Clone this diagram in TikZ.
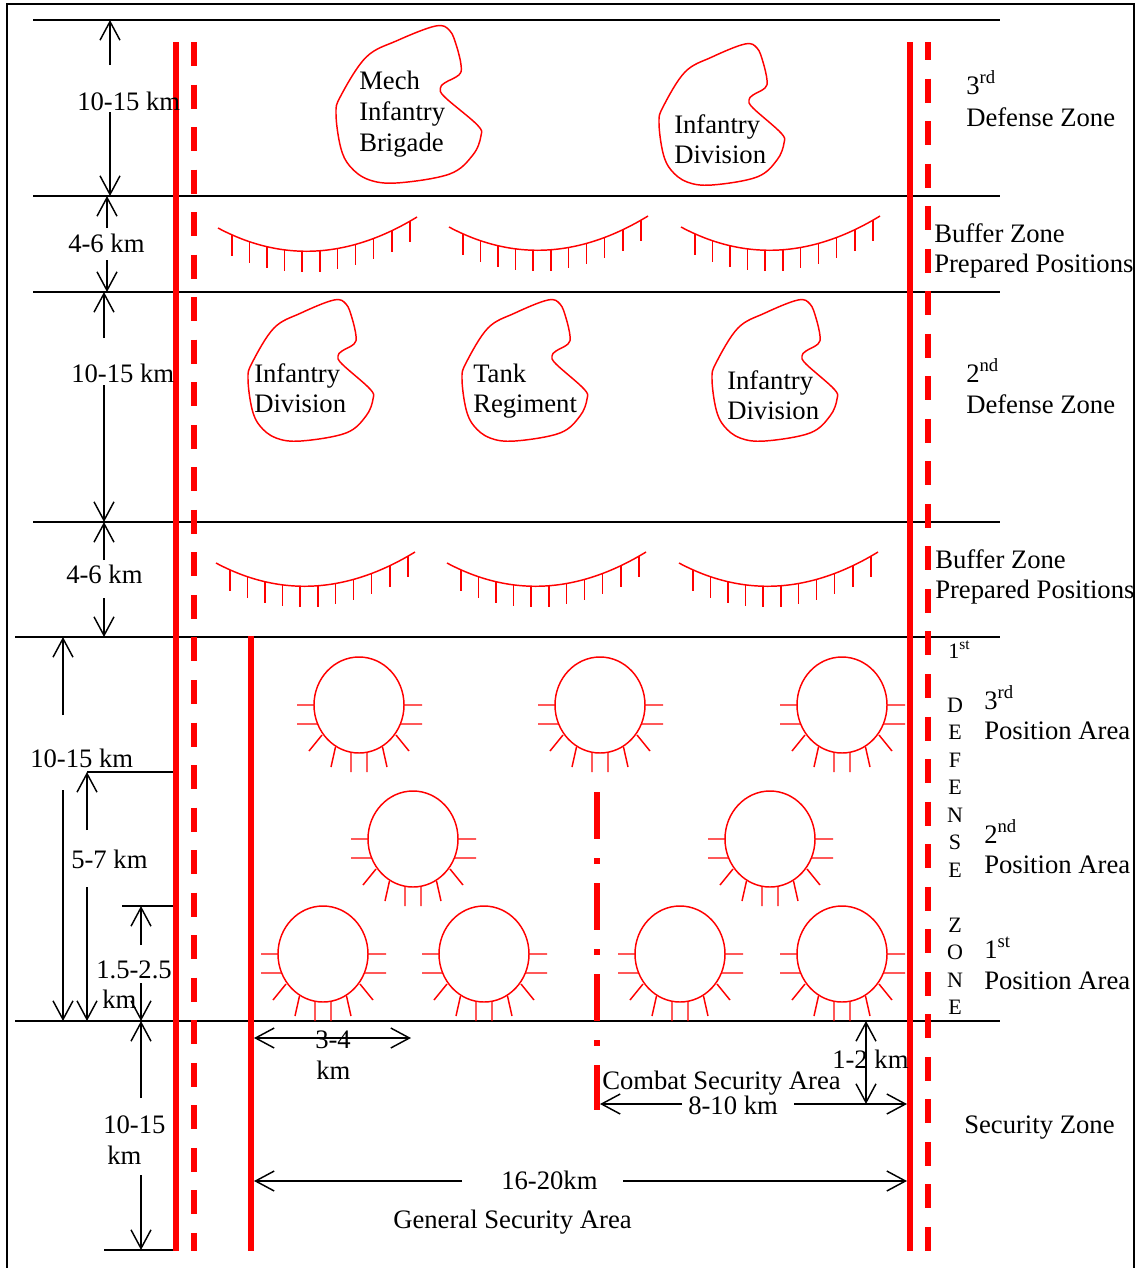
\documentclass[tikz,border=0pt]{standalone}
\usepackage{fontspec}
\setmainfont{Liberation Serif}
\usetikzlibrary{arrows.meta}
\begin{document}
\begin{tikzpicture}[x=0.75pt,y=-0.75pt,
  lbl/.style={anchor=base west, inner sep=0pt, font=\fontsize{20}{23}\selectfont},
  vlet/.style={anchor=base, inner sep=0pt, font=\fontsize{16.5}{20}\selectfont},
  vlw/.style={anchor=base west, inner sep=0pt, font=\fontsize{16.5}{20}\selectfont},
  framel/.style={line width=1.5pt},
  hline/.style={line width=1.1pt},
  dim/.style={line width=1.1pt, -{Straight Barb[length=14pt,width=15pt]}},
  dimboth/.style={line width=1.1pt, {Straight Barb[length=14pt,width=15pt]}-{Straight Barb[length=14pt,width=15pt]}},
  redthick/.style={red, line width=4.5pt},
  reddash/.style={red, line width=4.5pt, dash pattern=on 18pt off 13.9pt},
  redthin/.style={red, line width=1.1pt},
  unitblob/.pic={\draw[redthin] plot[smooth cycle, tension=0.6] coordinates {(86,0) (98,4) (104,18) (108,36) (106,44) (94,51) (90,56) (94,64) (122,89) (125,99) (118,116) (98,133) (53,141) (28,138) (12,126) (4,109) (0,79) (4,63) (26,28) (53,13)};},
  posarea/.pic={
    \draw[redthin] (0,0) ellipse [x radius=33.75pt, y radius=36pt];
    \draw[redthin] (-62,0) -- (-45,0) (-62,19) -- (-41,19) (45,0) -- (63,0) (41,19) -- (63,19)
      (-37,30) -- (-50,46) (37,30) -- (50,46) (-23.5,42) -- (-28,62) (23.5,42) -- (28,62)
      (-8,48) -- (-8,67) (8,48) -- (8,67);
  },
  fortarc/.pic={
    \draw[redthin] (0,0) .. controls (64.3,34.3) and (130.7,30.7) .. (199,-11);
    \foreach \i in {0,...,10}{
      \pgfmathsetmacro\tp{0.0725+0.0894*\i}
      \pgfmathsetmacro\xx{3*(1-\tp)^2*\tp*64.3+3*(1-\tp)*\tp^2*130.7+\tp^3*199}
      \pgfmathsetmacro\yy{3*(1-\tp)^2*\tp*34.3+3*(1-\tp)*\tp^2*30.7-\tp^3*11}
      \draw[redthin] (\xx,\yy) -- ++(0,21);
    }
  }
]
\useasboundingbox (0,0) rectangle (1137,1268);

% frame
\draw[framel] (7,1268) -- (7,4) -- (1134,4) -- (1134,1268);

% zone lines
\foreach \y in {20,196,292,522} \draw[hline] (33,\y) -- (1000,\y);
\foreach \y in {637,1021} \draw[hline] (15,\y) -- (1000,\y);

% left dimension arrows
\draw[dim] (110,65) -- (110,20);
\draw[dim] (110,112) -- (110,196);
\draw[dim] (107,228) -- (107,196);
\draw[dim] (107,260) -- (107,292);
\draw[dim] (104,338) -- (104,292);
\draw[dim] (104,385) -- (104,522);
\draw[dim] (104,560) -- (104,522);
\draw[dim] (104,598) -- (104,637);
\draw[dim] (63,715) -- (63,637);
\draw[dim] (63,790) -- (63,1021);
\draw[hline] (87,772) -- (176,772);
\draw[dim] (87,830) -- (87,772);
\draw[dim] (87,887) -- (87,1021);
\draw[hline] (122,906) -- (176,906);
\draw[dim] (141,945) -- (141,906);
\draw[dim] (141,983) -- (141,1021);
\draw[dim] (141,1098) -- (141,1021);
\draw[dim] (141,1175) -- (141,1250);
\draw[hline] (104,1250) -- (176,1250);

% bottom dimension arrows
\draw[dimboth] (254,1038) -- (411,1038);
\draw[dim] (462,1181) -- (254,1181);
\draw[dim] (623,1181) -- (907,1181);
\draw[dim] (682,1104) -- (600,1104);
\draw[dim] (794,1104) -- (907,1104);
\draw[dimboth] (866,1021) -- (866,1104);

% unit blobs
\pic (mib) [xscale=1.159,yscale=1.113] at (336,26) {unitblob};
\pic (id3) at (659,44) {unitblob};
\pic (id2a) at (248,300) {unitblob};
\pic (tr2) at (462,300) {unitblob};
\pic (id2b) at (712,300) {unitblob};

% prepared positions
\foreach \x/\y [count=\k] in {218/228,449/227,681/227,216/563,447/563,679/563}
  \pic (fa\k) at (\x,\y) {fortarc};

% position areas
\foreach \x/\y [count=\k] in {359/705,600/705,842/705,413/839,770/839,323/954,484/954,680/954,842/954}
  \pic (pa\k) at (\x,\y) {posarea};

% red boundary lines
\draw[redthick] (176,42) -- (176,1251);
\draw[reddash] (194,42) -- (194,1251);
\draw[redthick] (910,42) -- (910,1251);
\draw[reddash, dash phase=4.5pt] (928,42) -- (928,1251);
\draw[redthick] (251,636) -- (251,1251);
\draw[red, line width=4.5pt, dash pattern=on 35.25pt off 14.25pt on 4.5pt off 14.25pt] (597,792) -- (597,1110);

% blob texts
\node[lbl] (t1) at (359,89) {Mech};
\node[lbl] (t2) at (359,120) {Infantry};
\node[lbl] (t3) at (359,151) {Brigade};
\node[lbl] (t4) at (674,133) {Infantry};
\node[lbl] (t5) at (674,163) {Division};
\node[lbl] (t6) at (254,382) {Infantry};
\node[lbl] (t7) at (254,412) {Division};
\node[lbl] (t8) at (473,382) {Tank};
\node[lbl] (t9) at (473,412) {Regiment};
\node[lbl] (t10) at (727,389) {Infantry};
\node[lbl] (t11) at (727,419) {Division};

% dimension labels
\node[lbl] (d1) at (77,110) {10-15 km};
\node[lbl] (d2) at (68,252) {4-6 km};
\node[lbl] (d3) at (71,382) {10-15 km};
\node[lbl] (d4) at (66,583) {4-6 km};
\node[lbl] (d5) at (30,767) {10-15 km};
\node[lbl] (d6) at (71,868) {5-7 km};
\node[lbl] (d7a) at (96,978) {1.5-2.5};
\node[lbl] (d7b) at (102,1008) {km};
\node[lbl] (d8a) at (103,1133) {10-15};
\node[lbl] (d8b) at (107,1164) {km};
\node[lbl] (d9a) at (315,1048) {3-4};
\node[lbl] (d9b) at (316,1079) {km};
\node[lbl] (d10) at (501,1189) {16-20km};
\node[lbl] (d11) at (393,1228) {General Security Area};
\node[lbl] (d12) at (602,1089) {Combat Security Area};
\node[lbl] (d13) at (688,1114) {8-10 km};
\node[lbl] (d14) at (832,1068) {1-2 km};
\node[lbl] (d15) at (964,1133) {Security Zone};

% right labels
\node[lbl] (r1) at (966,94) {3\textsuperscript{rd}};
\node[lbl] (r2) at (966,126) {Defense Zone};
\node[lbl] (r3) at (934,242) {Buffer Zone};
\node[lbl] (r4) at (934,272) {Prepared Positions};
\node[lbl] (r5) at (966,382) {2\textsuperscript{nd}};
\node[lbl] (r6) at (966,413) {Defense Zone};
\node[lbl] (r7) at (935,568) {Buffer Zone};
\node[lbl] (r8) at (935,598) {Prepared Positions};
\node[vlw] (r9) at (948,658) {1\textsuperscript{st}};
\foreach \c/\y [count=\k] in {D/712,E/739.5,F/767,E/794.5,N/822,S/849.5,E/877,Z/932,O/959.5,N/987,E/1014.5}
  \node[vlet] (v\k) at (955,\y) {\c};
\node[lbl] (p1) at (984,709) {3\textsuperscript{rd}};
\node[lbl] (p2) at (984,739) {Position Area};
\node[lbl] (p3) at (984,843) {2\textsuperscript{nd}};
\node[lbl] (p4) at (984,873) {Position Area};
\node[lbl] (p5) at (984,958) {1\textsuperscript{st}};
\node[lbl] (p6) at (984,989) {Position Area};
\end{tikzpicture}
\end{document}
